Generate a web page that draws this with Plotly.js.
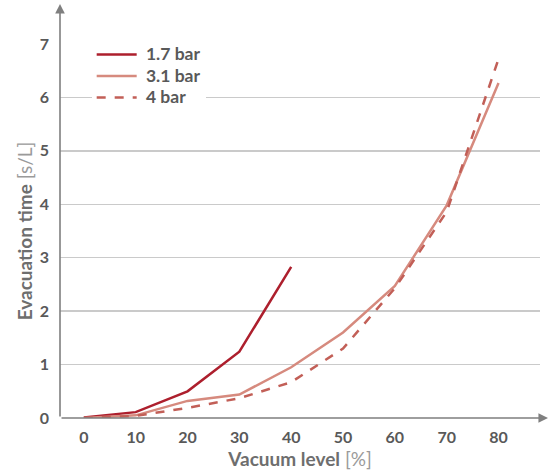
<!DOCTYPE html>
<html>
<head>
<meta charset="utf-8">
<script src="https://cdn.plot.ly/plotly-3.0.1.min.js"></script>
<style>html,body{margin:0;padding:0;background:#fff;}#chart{width:550px;height:476px;}</style>
</head>
<body>
<div id="chart"></div>
<script>
const vacuumLevels = [0, 10, 20, 30, 40, 50, 60, 70, 80];
const bar17 = [0.01, 0.11, 0.50, 1.24, 2.83];
const bar31 = [0.0, 0.05, 0.32, 0.44, 0.95, 1.60, 2.47, 3.98, 6.27];
const bar4 = [0.0, 0.04, 0.19, 0.37, 0.67, 1.30, 2.43, 3.86, 6.72];
const seriesNames = ['1.7 bar', '3.1 bar', '4 bar'];
const yTicks = [0, 1, 2, 3, 4, 5, 6, 7];

const legendName = n => '<span style="font-size:17.5px">&nbsp;' + n + '</span>';

const traces = [
  {x: vacuumLevels.slice(0, bar17.length), y: bar17, name: legendName(seriesNames[0]), mode: 'lines',
   line: {color: '#AD1F2D', width: 2.5}},
  {x: vacuumLevels, y: bar31, name: legendName(seriesNames[1]), mode: 'lines',
   line: {color: '#D68A7E', width: 2.5}},
  {x: vacuumLevels, y: bar4, name: legendName(seriesNames[2]), mode: 'lines',
   line: {color: '#C25F57', width: 2.5, dash: 'dash'}}
];

const fam = 'Lato, "Open Sans", sans-serif';
const tickFont = {family: fam, size: 16, color: '#595959', weight: 'bold'};
const layout = {
  width: 550, height: 476,
  margin: {l: 60, r: 10, t: 44, b: 58},
  paper_bgcolor: '#fff', plot_bgcolor: '#fff',
  showlegend: true,
  legend: {x: 0.066, y: 1.014, xanchor: 'left', yanchor: 'top', bgcolor: 'rgba(255,255,255,1)',
    font: {family: fam, size: 14.2, color: '#595959', weight: 'bold'},
    itemwidth: 40, tracegroupgap: 0},
  xaxis: {
    range: [-4.6, 88], tickvals: vacuumLevels, ticktext: vacuumLevels.map(String),
    showgrid: false, zeroline: false, showline: false, ticks: '',
    tickfont: tickFont, ticklabelstandoff: 8,
    title: {text: '<b>Vacuum level</b> <span style="color:#9a9a9a">[%]</span>', standoff: 7,
      font: {family: fam, size: 19, color: '#6e6e6e'}}
  },
  yaxis: {
    range: [0, 7], tickvals: yTicks, ticktext: yTicks.map(String),
    showgrid: true, gridcolor: '#CACACA', gridwidth: 1.5, zeroline: false, showline: false, ticks: '',
    tickfont: tickFont, ticklabelstandoff: 10,
    title: {text: '<b>Evacuation time</b> <span style="color:#9a9a9a">[s/L]</span>', standoff: 2,
      font: {family: fam, size: 19, color: '#6e6e6e'}}
  },
  annotations: [
    {xref: 'paper', yref: 'paper', x: 0, y: 1.107, ax: 0, ay: 414, axref: 'pixel', ayref: 'pixel',
     text: '', showarrow: true, arrowhead: 2, arrowsize: 1.2, arrowwidth: 1.6, arrowcolor: '#7F7F7F', standoff: 0, startstandoff: 0},
    {xref: 'paper', yref: 'paper', x: 1.0167, y: 0, ax: -488, ay: 0, axref: 'pixel', ayref: 'pixel',
     text: '', showarrow: true, arrowhead: 2, arrowsize: 1.2, arrowwidth: 1.6, arrowcolor: '#7F7F7F', standoff: 0, startstandoff: 0}
  ]
};

Plotly.newPlot('chart', traces, layout, {displayModeBar: false, staticPlot: true});
</script>
</body>
</html>
